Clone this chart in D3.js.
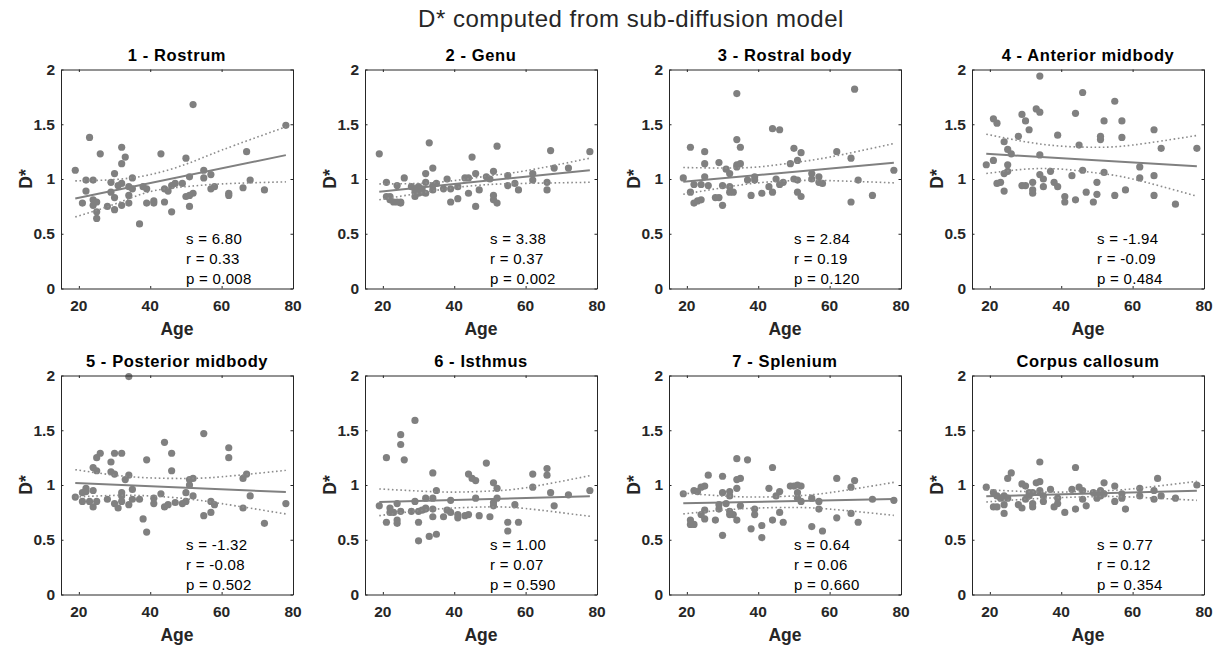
<!DOCTYPE html>
<html>
<head>
<meta charset="utf-8">
<script src="https://cdn.jsdelivr.net/npm/d3@7"></script>
<style>
  body { margin: 0; background: #fff; }
  svg { display: block; font-family: Arial, "Liberation Sans", Helvetica, sans-serif; }
</style>
</head>
<body>
<svg id="chart"></svg>
<script>
//Figure title and per-panel titles.
var mainTitle = "D* computed from sub-diffusion model";
var panelTitles = ["1 - Rostrum", "2 - Genu", "3 - Rostral body", "4 - Anterior midbody",
  "5 - Posterior midbody", "6 - Isthmus", "7 - Splenium", "Corpus callosum"];

//Axis ticks.
var ageTicks = [20, 40, 60, 80];
var dTicks = [0, 0.5, 1, 1.5, 2];
var dTickLabels = ["0", "0.5", "1", "1.5", "2"];

//Scatter points [age, D*] for each panel.
var rostrum = [[19,1.08],[21,0.78],[22,0.89],[22,0.99],[23,1.38],[24,0.99],[24,0.81],[24,0.76],[25,0.79],[25,0.70],[25,0.64],[26,1.23],[28,0.75],[29,0.97],[29,0.88],[30,1.05],[30,0.83],[30,0.72],[31,0.94],[32,1.29],[32,1.14],[32,0.96],[32,0.76],[33,1.20],[34,0.93],[34,0.85],[34,0.78],[35,1.01],[35,0.91],[37,0.59],[38,0.93],[39,0.78],[39,0.91],[41,0.80],[41,0.78],[43,1.23],[44,0.79],[44,0.91],[45,0.89],[46,0.70],[46,0.94],[47,0.96],[49,0.96],[50,1.19],[50,0.84],[51,1.02],[51,0.75],[51,0.85],[52,0.87],[52,1.68],[55,1.08],[55,1.01],[57,1.04],[57,0.91],[58,0.93],[62,0.87],[62,0.85],[66,0.92],[67,1.25],[68,0.99],[72,0.90],[78,1.49]];
var genu = [[19,1.23],[21,0.97],[21,0.84],[22,0.84],[22,0.81],[23,0.79],[24,0.94],[24,0.79],[25,0.79],[25,0.78],[26,1.01],[28,0.93],[29,0.84],[29,0.88],[29,0.91],[30,0.93],[30,0.87],[31,0.91],[31,0.88],[32,1.05],[32,0.97],[32,0.87],[33,1.33],[34,1.10],[34,0.90],[34,0.94],[35,0.96],[37,0.91],[38,1.00],[39,0.79],[39,0.91],[41,0.82],[41,0.93],[43,1.01],[44,1.01],[44,0.87],[45,1.20],[46,0.75],[46,1.05],[47,0.90],[49,1.02],[50,1.00],[51,1.07],[51,0.85],[51,0.81],[52,1.30],[52,0.78],[55,1.03],[55,0.94],[57,0.96],[58,0.90],[62,1.05],[62,0.99],[66,0.97],[66,0.90],[67,1.26],[68,1.10],[72,1.10],[78,1.25]];
var rostralBody = [[19,1.01],[21,1.29],[21,0.88],[22,0.95],[22,0.78],[23,0.80],[24,0.95],[24,0.81],[25,1.25],[25,1.14],[25,1.02],[26,0.94],[28,0.83],[29,1.15],[29,0.83],[30,0.76],[30,0.94],[31,1.09],[32,1.05],[32,0.93],[32,0.88],[33,0.88],[34,1.78],[34,1.36],[34,1.13],[34,1.11],[35,1.29],[35,1.14],[37,0.99],[38,0.85],[39,1.02],[39,0.99],[41,0.87],[43,0.93],[44,1.46],[44,0.88],[45,1.00],[46,1.45],[46,0.95],[47,0.97],[49,1.14],[50,1.28],[50,1.00],[51,1.17],[51,0.99],[51,0.88],[52,1.24],[52,0.84],[55,1.05],[55,1.00],[57,1.02],[57,0.97],[58,0.96],[62,1.25],[66,1.19],[66,0.79],[67,1.82],[68,0.99],[72,0.85],[78,1.08]];
var antMidbody = [[19,1.13],[21,1.55],[21,1.17],[22,1.51],[22,0.96],[23,0.97],[24,1.34],[24,1.05],[24,0.89],[25,1.27],[25,1.13],[25,1.07],[26,1.23],[28,1.39],[29,1.59],[29,0.94],[30,1.53],[30,0.94],[31,1.45],[32,0.97],[32,0.90],[32,0.87],[33,1.64],[34,1.94],[34,1.61],[34,1.22],[34,1.04],[35,0.93],[35,1.00],[37,1.07],[38,0.97],[39,1.40],[39,0.93],[41,0.84],[41,0.79],[43,1.03],[44,1.60],[44,0.81],[45,1.31],[46,1.79],[46,1.08],[47,0.88],[49,0.79],[50,0.97],[50,0.86],[51,1.39],[51,1.36],[52,1.53],[52,1.06],[55,1.71],[55,0.85],[57,1.53],[57,1.38],[58,0.90],[62,1.11],[62,1.01],[66,1.45],[66,1.03],[66,0.85],[68,1.28],[72,0.77],[78,1.28]];
var postMidbody = [[19,0.89],[21,0.93],[21,0.85],[22,0.97],[22,0.94],[23,0.85],[24,1.16],[24,0.95],[24,0.80],[25,1.25],[25,1.13],[25,0.85],[26,1.29],[28,0.87],[29,1.21],[29,1.12],[30,1.29],[30,1.10],[30,0.83],[31,0.79],[32,1.29],[32,0.93],[32,0.90],[32,0.85],[33,1.05],[34,1.99],[34,1.09],[34,0.82],[35,0.96],[35,0.87],[37,0.87],[38,0.69],[39,1.23],[39,0.57],[41,0.88],[41,0.83],[43,0.92],[44,1.39],[44,0.80],[45,0.82],[46,1.29],[46,1.13],[47,0.84],[49,0.83],[50,0.85],[50,0.93],[51,1.05],[51,1.00],[52,1.06],[52,0.90],[55,1.47],[55,0.72],[57,0.75],[57,0.85],[58,0.82],[62,1.34],[62,1.25],[66,0.79],[66,1.06],[67,1.10],[68,0.90],[72,0.65],[78,0.83]];
var isthmus = [[19,0.81],[21,1.25],[21,0.66],[22,0.79],[22,0.75],[23,0.75],[24,0.83],[24,0.68],[24,0.65],[25,1.46],[25,1.37],[25,0.76],[26,1.23],[28,0.76],[29,1.59],[29,0.85],[30,0.76],[30,0.66],[30,0.49],[31,0.77],[32,0.88],[32,0.79],[32,0.78],[33,0.53],[34,1.11],[34,0.88],[34,0.78],[34,0.71],[35,0.95],[35,0.55],[37,0.71],[38,0.77],[39,0.86],[39,0.75],[41,0.73],[41,0.70],[43,0.72],[44,1.10],[44,0.73],[45,1.06],[46,1.04],[46,0.88],[47,0.72],[49,1.20],[50,0.71],[51,1.02],[51,0.84],[51,0.81],[52,0.97],[52,0.88],[55,0.66],[55,0.58],[57,0.82],[58,0.66],[62,1.10],[62,0.98],[66,1.15],[66,1.09],[67,0.93],[68,0.81],[72,0.91],[78,0.95]];
var splenium = [[19,0.92],[21,0.68],[21,0.64],[22,0.95],[22,0.64],[23,0.94],[24,0.98],[24,0.73],[25,0.99],[25,0.77],[25,0.69],[26,1.09],[28,0.68],[29,0.82],[29,0.78],[30,1.08],[30,0.93],[30,0.54],[31,0.83],[32,0.94],[32,0.90],[32,0.76],[32,0.73],[33,0.73],[34,1.24],[34,1.05],[34,0.97],[34,0.68],[35,1.06],[35,0.81],[37,1.23],[38,0.60],[39,0.78],[39,0.73],[41,0.63],[41,0.52],[43,0.97],[44,1.16],[44,0.68],[45,0.90],[46,0.94],[46,0.75],[47,0.66],[49,0.99],[50,0.99],[51,1.00],[51,0.93],[51,0.88],[52,0.99],[52,0.85],[55,0.88],[55,0.62],[57,0.85],[57,0.78],[58,0.58],[62,1.06],[62,0.70],[66,0.98],[66,0.74],[67,1.04],[68,0.66],[72,0.87],[78,0.86]];
var corpusCallosum = [[19,0.98],[21,0.93],[21,0.80],[22,0.80],[22,0.90],[23,0.88],[24,0.90],[24,0.82],[24,0.74],[25,1.06],[25,0.88],[26,1.11],[28,0.82],[29,1.01],[29,0.79],[30,0.99],[30,0.87],[31,0.93],[31,0.90],[32,0.93],[32,0.83],[32,0.80],[33,1.02],[34,1.21],[34,1.03],[34,0.95],[34,0.93],[35,0.90],[35,0.85],[37,0.96],[38,0.80],[39,0.88],[39,0.83],[41,0.75],[43,0.96],[44,1.16],[44,0.78],[45,0.98],[46,0.95],[46,0.87],[47,0.81],[49,0.93],[50,0.88],[50,0.91],[51,0.95],[51,0.90],[52,1.02],[52,0.92],[55,0.99],[55,0.85],[57,0.92],[57,0.88],[58,0.78],[62,0.97],[62,0.90],[66,0.95],[66,0.87],[67,1.06],[68,0.90],[72,0.88],[78,1.00]];
var panelPoints = [rostrum, genu, rostralBody, antMidbody, postMidbody, isthmus, splenium, corpusCallosum];

//Fitted line: D* at the first and last age.
var fitAges = [19, 78];
var fitValues = [[0.822, 1.218], [0.883, 1.081], [0.974, 1.148], [1.230, 1.117],
  [1.018, 0.936], [0.845, 0.897], [0.833, 0.872], [0.897, 0.948]];

//Confidence bands (dotted), read at these ages.
var bandAges = [19, 30, 40, 50, 60, 78];
var bandUpper = [
  [0.983, 0.995, 1.04, 1.135, 1.263, 1.476],
  [0.955, 0.96, 0.985, 1.03, 1.075, 1.19],
  [1.105, 1.10, 1.11, 1.15, 1.20, 1.324],
  [1.409, 1.34, 1.30, 1.29, 1.31, 1.397],
  [1.14, 1.09, 1.065, 1.06, 1.075, 1.134],
  [0.964, 0.945, 0.935, 0.945, 0.975, 1.085],
  [0.927, 0.90, 0.89, 0.90, 0.93, 1.024],
  [0.957, 0.94, 0.935, 0.945, 0.965, 1.033]];
var bandLower = [
  [0.654, 0.77, 0.885, 0.93, 0.955, 0.974],
  [0.81, 0.87, 0.92, 0.95, 0.96, 0.97],
  [0.861, 0.92, 0.965, 0.985, 0.985, 0.965],
  [1.05, 1.09, 1.09, 1.055, 1.00, 0.843],
  [0.89, 0.905, 0.90, 0.875, 0.83, 0.736],
  [0.72, 0.765, 0.79, 0.80, 0.785, 0.714],
  [0.736, 0.77, 0.79, 0.795, 0.78, 0.723],
  [0.845, 0.87, 0.885, 0.895, 0.89, 0.86]];

//Statistics printed in each panel.
var slopes = ["6.80", "3.38", "2.84", "-1.94", "-1.32", "1.00", "0.64", "0.77"];
var rValues = ["0.33", "0.37", "0.19", "-0.09", "-0.08", "0.07", "0.06", "0.12"];
var pValues = ["0.008", "0.002", "0.120", "0.484", "0.502", "0.590", "0.660", "0.354"];

var w = 1222, h = 648;
var svg = d3.select("#chart").attr("width", w).attr("height", h);

var gray = "#808080";
var axisColor = "#262626";

//Panel geometry.
var plotW = 232, plotH = 219;
var colLeft = [61, 365, 669, 972];
var rowTop = [69.5, 375.5];

//Shared scales (each panel gets its own translated group).
var x = d3.scaleLinear().domain([15, 80]).range([0, plotW]);
var y = d3.scaleLinear().domain([0, 2]).range([plotH, 0]);

svg.append("text")
  .attr("x", 631).attr("y", 27)
  .attr("text-anchor", "middle")
  .attr("font-size", 24)
  .attr("letter-spacing", 0.5)
  .attr("fill", axisColor)
  .text(mainTitle);

var bandLine = d3.line()
  .x(d => x(d[0]))
  .y(d => y(d[1]))
  .curve(d3.curveNatural);

panelPoints.forEach((pts, i) => {
  var g = svg.append("g")
    .attr("transform", "translate(" + colLeft[i % 4] + "," + rowTop[Math.floor(i / 4)] + ")");

  //Points.
  g.append("g").selectAll("circle")
    .data(pts)
    .enter().append("circle")
      .attr("cx", d => x(d[0]))
      .attr("cy", d => y(d[1]))
      .attr("r", 3.6)
      .attr("fill", gray);

  //Regression line.
  g.append("line")
    .attr("x1", x(fitAges[0])).attr("y1", y(fitValues[i][0]))
    .attr("x2", x(fitAges[1])).attr("y2", y(fitValues[i][1]))
    .attr("stroke", gray)
    .attr("stroke-width", 2);

  //Dotted confidence bands.
  [bandUpper[i], bandLower[i]].forEach(band => {
    g.append("path")
      .datum(bandAges.map((a, k) => [a, band[k]]))
      .attr("d", bandLine)
      .attr("fill", "none")
      .attr("stroke", "#8c8c8c")
      .attr("stroke-width", 1.6)
      .attr("stroke-dasharray", "1.6,2.6");
  });

  //Box with inward ticks on all four sides.
  g.append("g")
    .attr("transform", "translate(0," + plotH + ")")
    .call(d3.axisBottom(x).tickValues(ageTicks).tickSizeInner(-2.5).tickSizeOuter(0).tickFormat(""));
  g.append("g")
    .call(d3.axisTop(x).tickValues(ageTicks).tickSizeInner(-2.5).tickSizeOuter(0).tickFormat(""));
  g.append("g")
    .call(d3.axisLeft(y).tickValues(dTicks).tickSizeInner(-2.5).tickSizeOuter(0).tickFormat(""));
  g.append("g")
    .attr("transform", "translate(" + plotW + ",0)")
    .call(d3.axisRight(y).tickValues(dTicks).tickSizeInner(-2.5).tickSizeOuter(0).tickFormat(""));
  g.selectAll(".domain, .tick line").attr("stroke", axisColor);

  //Tick labels.
  g.append("g").selectAll("text")
    .data(ageTicks)
    .enter().append("text")
      .attr("x", d => x(d))
      .attr("y", plotH + 17)
      .attr("dy", "0.35em")
      .attr("text-anchor", "middle")
      .attr("font-size", 15.5)
      .attr("font-weight", "bold")
      .attr("fill", axisColor)
      .text(d => d);
  g.append("g").selectAll("text")
    .data(dTicks)
    .enter().append("text")
      .attr("x", -6)
      .attr("y", d => y(d))
      .attr("dy", "0.35em")
      .attr("text-anchor", "end")
      .attr("font-size", 15.5)
      .attr("font-weight", "bold")
      .attr("fill", axisColor)
      .text((d, k) => dTickLabels[k]);

  //Axis labels and title.
  g.append("text")
    .attr("x", plotW / 2).attr("y", plotH + 40)
    .attr("dy", "0.35em")
    .attr("text-anchor", "middle")
    .attr("font-size", 17.5)
    .attr("font-weight", "bold")
    .attr("fill", axisColor)
    .text("Age");
  g.append("text")
    .attr("transform", "translate(-35," + (plotH / 2) + ") rotate(-90)")
    .attr("dy", "0.35em")
    .attr("text-anchor", "middle")
    .attr("font-size", 17.5)
    .attr("font-weight", "bold")
    .attr("fill", axisColor)
    .text("D*");
  g.append("text")
    .attr("x", plotW / 2).attr("y", -14)
    .attr("dy", "0.35em")
    .attr("text-anchor", "middle")
    .attr("font-size", 16.5)
    .attr("letter-spacing", 0.6)
    .attr("font-weight", "bold")
    .attr("fill", "#000")
    .text(panelTitles[i]);

  //s, r, p annotations at age 50.
  var stats = ["s = " + slopes[i], "r = " + rValues[i], "p = " + pValues[i]];
  var statY = [0.45, 0.27, 0.09];
  g.append("g").selectAll("text")
    .data(stats)
    .enter().append("text")
      .attr("x", x(50))
      .attr("y", (d, k) => y(statY[k]))
      .attr("dy", "0.35em")
      .attr("font-size", 15)
      .attr("letter-spacing", 0.3)
      .attr("fill", "#000")
      .text(d => d);
});
</script>
</body>
</html>
